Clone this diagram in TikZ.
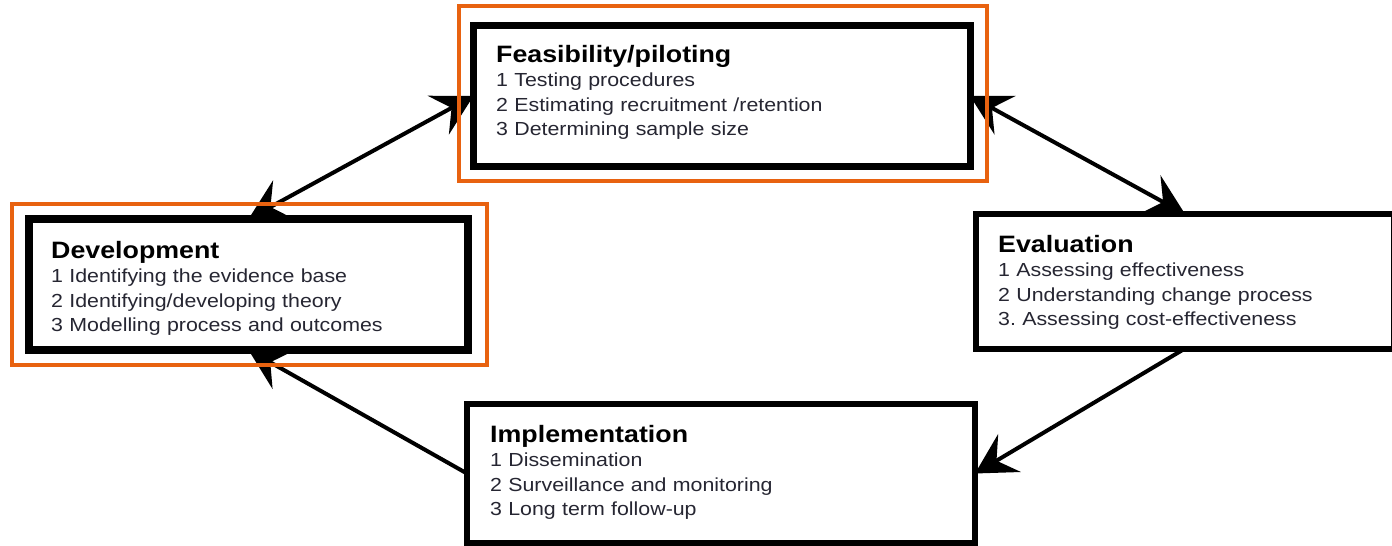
\documentclass[tikz,border=0pt]{standalone}
\usepackage{fontspec}
\setmainfont{Liberation Sans}[FakeStretch=1.13]
\usetikzlibrary{arrows.meta}
\definecolor{orangeframe}{RGB}{232,98,16}
\definecolor{itemgray}{RGB}{38,38,50}
\newcommand{\ttlfont}{\fontsize{23.7}{28}\selectfont\bfseries}
\newcommand{\itmfont}{\fontsize{18.9}{24.6}\selectfont}
\begin{document}
\begin{tikzpicture}[x=1pt,y=-1pt,
  blackbox/.style={draw=black, rectangle, inner sep=0pt, outer sep=0pt},
  hiframe/.style={draw=orangeframe, line width=4pt},
  boxtext/.style={anchor=base west, inner sep=0pt, text width=420pt, align=left, font=\itmfont, text=itemgray},
  tip/.tip={Stealth[length=40pt,width=44pt,inset=15pt]},
  oneway/.style={line width=4pt, -tip},
  twoway/.style={line width=4pt, tip-tip}]
\clip (0,0) rectangle (1392,546);
\fill[white] (0,0) rectangle (1392,546);
% boxes
\node[blackbox, line width=7pt, minimum width=496.5pt, minimum height=141.2pt] (feas) at (721.75,95.9) {};
\node[blackbox, line width=8pt, minimum width=439pt, minimum height=131pt] (dev) at (248.5,284.5) {};
\node[blackbox, line width=6pt, minimum width=418pt, minimum height=134.5pt] (eval) at (1185,281.25) {};
\node[blackbox, line width=6pt, minimum width=508pt, minimum height=139pt] (impl) at (721,473.5) {};
% texts
\node[boxtext] (feast) at (496,62) {{\ttlfont\color{black}Feasibility/piloting}\\1 Testing procedures\\2 Estimating recruitment /retention\\3 Determining sample size};
\node[boxtext] (devt) at (51,258) {{\ttlfont\color{black}Development}\\1 Identifying the evidence base\\2 Identifying/developing theory\\3 Modelling process and outcomes};
\node[boxtext] (evalt) at (998,252) {{\ttlfont\color{black}Evaluation}\\1 Assessing effectiveness\\2 Understanding change process\\3.\ Assessing cost-effectiveness};
\node[boxtext] (implt) at (490,442) {{\ttlfont\color{black}Implementation}\\1 Dissemination\\2 Surveillance and monitoring\\3 Long term follow-up};
% connectors
\draw[twoway] (dev.north) -- (feas.west);
\draw[twoway] (feas.east) -- (eval.north);
\draw[oneway] (eval.south) -- (impl.east);
\draw[oneway] (impl.west) -- (dev.south);
% highlight frames
\draw[hiframe] (459,6.3) rectangle (987,180.7);
\draw[hiframe] (12,203.7) rectangle (487,365);
\end{tikzpicture}
\end{document}
